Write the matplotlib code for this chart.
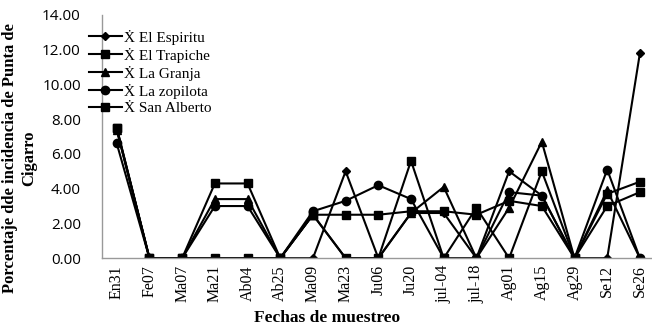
import numpy as np
import matplotlib
matplotlib.use("Agg")
import matplotlib.pyplot as plt

# Sampling dates
fechas = ["En31", "Fe07", "Ma07", "Ma21", "Ab04", "Ab25", "Ma09", "Ma23", "Ju06",
          "Ju20", "jul-04", "jul-18", "Ag01", "Ag15", "Ag29", "Se12", "Se26"]

# Incidence (%) per site
el_espiritu = [7.4, 0, 0, 0, 0, 0, 0, 5.0, 0, 2.6, 2.6, 0, 5.0, 3.6, 0, 0, 11.8]
el_trapiche = [7.5, 0, 0, 4.3, 4.3, 0, 2.5, 2.5, 2.5, 2.7, 2.7, 2.5, 3.3, 3.0, 0, 3.7, 4.4]
la_granja = [7.4, 0, 0, 3.4, 3.4, 0, 2.5, 0, 0, 2.6, 4.1, 0, 2.9, 6.7, 0, 3.9, 0]
la_zopilota = [6.6, 0, 0, 3.0, 3.0, 0, 2.7, 3.3, 4.2, 3.4, 0, 0, 3.8, 3.6, 0, 5.1, 0]
san_alberto = [7.5, 0, 0, 0, 0, 0, 2.5, 0, 0, 5.6, 0, 2.9, 0, 5.0, 0, 3.0, 3.8]

series = [
    ("Ẋ El Espiritu", el_espiritu, "D", 4),
    ("Ẋ El Trapiche", el_trapiche, "s", 6),
    ("Ẋ La Granja", la_granja, "^", 6),
    ("Ẋ La zopilota", la_zopilota, "o", 6),
    ("Ẋ San Alberto", san_alberto, "s", 6),
]

serif = ["Liberation Serif", "DejaVu Serif"]

fig = plt.figure(figsize=(6.52, 3.31), dpi=100)
ax = fig.add_axes([0.156, 0.22, 0.844, 0.735])

x = np.arange(len(fechas))
for label, vals, mk, ms in series:
    ax.plot(x, vals, color="black", lw=1.5, marker=mk, markersize=ms, label=label)

ax.set_xlim(-0.46, 16.37)
ax.set_ylim(0, 14)
ax.set_yticks(np.arange(0, 15, 2))
ax.set_yticklabels([f"{v:.2f}" for v in np.arange(0, 15, 2)], family="Open Sans", fontsize=11)
ax.set_xticks(x)
ax.set_xticklabels(fechas, rotation=90, family=serif, fontsize=11.5)
ax.tick_params(axis="x", length=0, pad=5)
ax.tick_params(axis="y", length=0, pad=15)

for s in ["top", "right"]:
    ax.spines[s].set_visible(False)
for s in ["left", "bottom"]:
    ax.spines[s].set_color("#999999")
    ax.spines[s].set_linewidth(1)

ax.set_ylabel("Porcentaje dde incidencia de Punta de\nCigarro", family=serif,
              fontweight="bold", fontsize=12, linespacing=1.2)
ax.yaxis.set_label_coords(-0.118, 0.41)
ax.set_xlabel("Fechas de muestreo", family=serif, fontweight="bold", fontsize=12.5)
ax.xaxis.set_label_coords(0.41, -0.215)

leg = ax.legend(loc="upper left", bbox_to_anchor=(-0.035, 0.965), frameon=False,
                prop={"family": serif, "size": 11}, handlelength=2.2,
                handletextpad=0.15, labelspacing=0.2, borderaxespad=0)

fig.savefig("out.png", dpi=100)
